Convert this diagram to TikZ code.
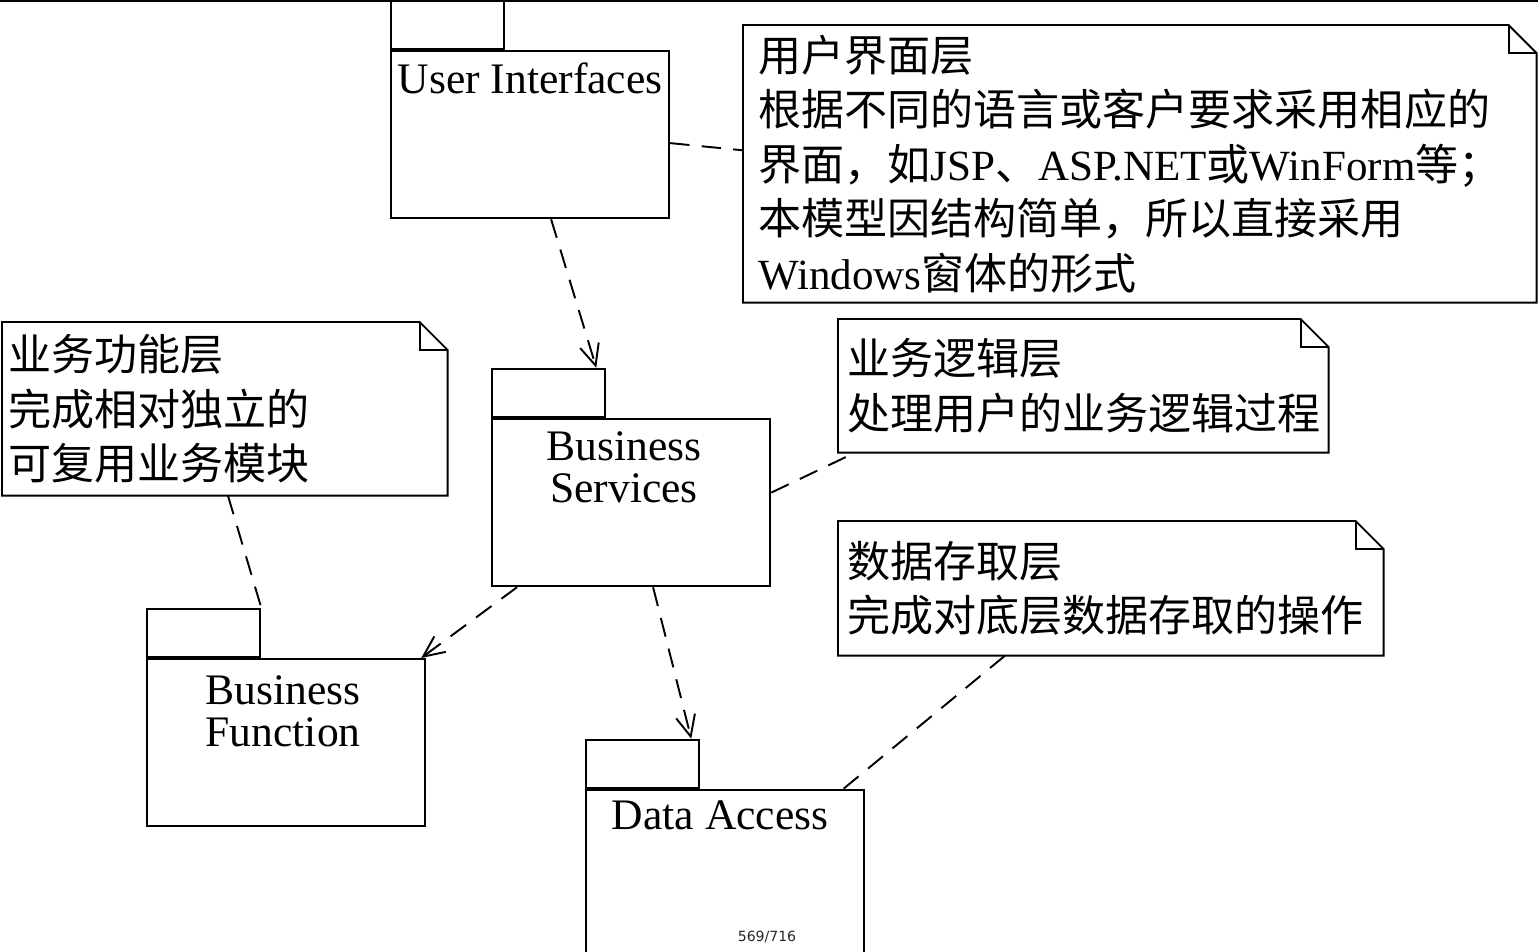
\documentclass[tikz,border=0pt]{standalone}
\usepackage{fontspec}
\setmainfont{Liberation Serif}
\newfontfamily\cjk{Noto Sans CJK SC}
\newfontfamily\pagefont{DejaVu Sans}
\usepackage{tikz}
\usetikzlibrary{positioning,arrows.meta}

\tikzset{
	pkgbody/.style={draw, line width=1.3pt, minimum width=5.56cm, minimum height=3.34cm, inner sep=0pt, anchor=north west},
	pkgtab/.style={draw, line width=1.3pt, minimum width=2.26cm, minimum height=0.96cm, inner sep=0pt, anchor=south west},
	pkgname/.style={anchor=north, align=center, inner sep=0pt, font=\fontsize{24.8}{24}\selectfont},
	notebox/.style={anchor=north west, align=left, inner ysep=0pt, font=\fontsize{24.5}{31}\selectfont},
	notefold/.style={line width=1.1pt, line join=miter},
	dep/.style={line width=1.1pt, dash pattern=on 11pt off 7pt, -{Straight Barb[length=12pt,width=11pt,line width=1.1pt]}},
	anchorline/.style={line width=1.1pt, dash pattern=on 11pt off 7pt}
}

\begin{document}
\begin{tikzpicture}[x=0.02cm,y=-0.02cm]
	\useasboundingbox (0,0) rectangle (1538,952);
	\clip (0,0) rectangle (1538,952);
	\draw[line width=1.3pt] (0,1) -- (1538,1);

	% packages
	\node[pkgbody] (ui) at (390,50) {};
	\node[pkgtab] (uiTab) at (ui.north west) {};
	\node[pkgname] (uiName) at ([yshift=-0.24cm]ui.north) {User Interfaces};

	\node[pkgbody] (bs) at (491,418) {};
	\node[pkgtab] (bsTab) at (bs.north west) {};
	\node[pkgname] (bsName) at ([xshift=-0.14cm,yshift=-0.26cm]bs.north) {Business\\Services};

	\node[pkgbody] (bf) at (146,658) {};
	\node[pkgtab] (bfTab) at (bf.north west) {};
	\node[pkgname] (bfName) at ([xshift=-0.06cm,yshift=-0.34cm]bf.north) {Business\\Function};

	\node[pkgbody, minimum height=3.7cm] (da) at (585,789) {};
	\node[pkgtab] (daTab) at (da.north west) {};
	\node[pkgname] (daName) at ([xshift=-0.1cm,yshift=-0.22cm]da.north) {Data Access};

	% notes
	\node[notebox, inner xsep=0.3cm, text width=15.26cm, minimum height=5.54cm] (nUI) at (743,25)
		{{\cjk 用户界面层}\\
		 {\cjk 根据不同的语言或客户要求采用相应的}\\
		 {\cjk 界面，如}JSP{\cjk 、}ASP.NET{\cjk 或}WinForm{\cjk 等；}\\
		 {\cjk 本模型因结构简单，所以直接采用}\\
		 Windows{\cjk 窗体的形式}};
	\node[notebox, inner xsep=0.12cm, text width=8.66cm, minimum height=3.46cm] (nBF) at (2,322)
		{\cjk 业务功能层\\完成相对独立的\\可复用业务模块};
	\node[notebox, inner xsep=0.18cm, text width=9.44cm, minimum height=2.66cm] (nBS) at (838,319)
		{\cjk 业务逻辑层\\处理用户的业务逻辑过程};
	\node[notebox, inner xsep=0.18cm, text width=10.54cm, minimum height=2.68cm] (nDA) at (838,521)
		{\cjk 数据存取层\\完成对底层数据存取的操作};
	\foreach \n in {nUI,nBF,nBS,nDA}{
		\draw[notefold] (\n.north west) -- ([xshift=-0.56cm]\n.north east) -- ([yshift=-0.56cm]\n.north east)
			-- (\n.south east) -- (\n.south west) -- cycle;
		\draw[notefold] ([xshift=-0.56cm]\n.north east) |- ([yshift=-0.56cm]\n.north east);
	}

	% dependencies
	\draw[dep] ([xshift=0.42cm]ui.south) -- ([xshift=-0.2cm]bsTab.north east);
	\draw[dep] ([xshift=0.52cm]bs.south west) -- ([xshift=-0.1cm]bf.north east);
	\draw[dep] ([xshift=0.44cm]bs.south) -- ([xshift=-0.18cm]daTab.north east);

	% note links
	\draw[anchorline] ([yshift=-0.17cm]ui.east) -- ([yshift=0.27cm]nUI.west);
	\draw[anchorline] ([yshift=0.2cm]bs.east) -- ([xshift=0.34cm]nBS.south west);
	\draw[anchorline] ([xshift=4.52cm]nBF.south west) -- (bfTab.north east);
	\draw[anchorline] ([xshift=3.34cm]nDA.south west) -- ([xshift=-0.44cm]da.north east);

	\node[font=\pagefont\fontsize{8}{8}\selectfont, text=black!85] (pageNo) at (767,937) {569/716};
\end{tikzpicture}
\end{document}
